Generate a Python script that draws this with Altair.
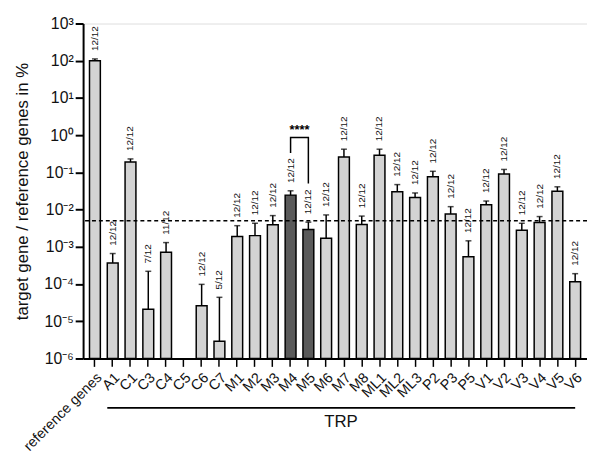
import altair as alt
import pandas as pd

categories = ["reference genes", "A1", "C1", "C3", "C4", "C5", "C6", "C7",
              "M1", "M2", "M3", "M4", "M5", "M6", "M7", "M8",
              "ML1", "ML2", "ML3", "P2", "P3", "P5",
              "V1", "V2", "V3", "V4", "V5", "V6"]
means = [100, 3.7e-4, 0.19, 2.1e-5, 7.1e-4, None, 2.6e-5, 2.9e-6,
         1.9e-3, 2.0e-3, 3.9e-3, 0.0245, 2.9e-3, 1.7e-3, 0.26, 4.0e-3,
         0.29, 0.03, 0.021, 0.076, 7.6e-3, 5.4e-4,
         0.0135, 0.09, 2.8e-3, 4.5e-3, 0.031, 1.15e-4]
upper = [112, 6.6e-4, 0.23, 2.2e-4, 1.3e-3, None, 9.8e-5, 4.4e-5,
         3.7e-3, 4.3e-3, 6.9e-3, 0.032, 4.6e-3, 7.2e-3, 0.42, 6.7e-3,
         0.42, 0.047, 0.028, 0.107, 0.012, 1.45e-3,
         0.017, 0.12, 4.3e-3, 6.5e-3, 0.041, 1.9e-4]
counts = ["12/12", "12/12", "12/12", "7/12", "11/12", "", "12/12", "5/12",
          "12/12", "12/12", "12/12", "12/12", "12/12", "12/12", "12/12", "12/12",
          "12/12", "12/12", "12/12", "12/12", "12/12", "12/12",
          "12/12", "12/12", "12/12", "12/12", "12/12", "12/12"]
highlight = ["M4", "M5"]
threshold = 0.005
ytick_values = [1e-6, 1e-5, 1e-4, 1e-3, 1e-2, 1e-1, 1, 10, 100, 1000]
bracket_cat = ["M4", "M4", "M5", "M5"]
bracket_val = [0.33, 0.87, 0.87, 0.05]
group_label = "TRP"
group_start, group_end = "A1", "V6"

df = pd.DataFrame({"cat": categories, "mean": means, "upper": upper, "n": counts})
df["dark"] = df["cat"].isin(highlight)
df = df.dropna(subset=["mean"])
df["base"] = 1e-6

FONT = "Liberation Sans"
xscale = alt.Scale(domain=categories, paddingInner=0.39, paddingOuter=0.36)
yscale = alt.Scale(type="log", domain=[1e-6, 1e3])

sup = {-6: "⁻⁶", -5: "⁻⁵", -4: "⁻⁴", -3: "⁻³", -2: "⁻²", -1: "⁻¹",
       0: "⁰", 1: "¹", 2: "²", 3: "³"}
expr = "''"
for k, v in sup.items():
    expr = f"round(log(datum.value)/LN10) == {k} ? '10{v}' : ({expr})"

x_enc = alt.X("cat:N", scale=xscale, sort=categories,
              axis=alt.Axis(title=None, labelAngle=-45, labelFontSize=14.5, labelFont=FONT,
                            labelColor="#111", tickSize=8, tickWidth=1.5, tickColor="black",
                            domainColor="black", domainWidth=2, labelPadding=4))
y_axis = alt.Axis(title="target gene / reference genes in %", titleFontSize=17,
                  titleFont=FONT, titleFontWeight="normal", titleColor="#111",
                  values=ytick_values, labelExpr=expr, labelFontSize=16, labelFont=FONT,
                  labelColor="#111", tickSize=8, tickWidth=2, tickColor="black",
                  domainColor="black", domainWidth=2, grid=False, titlePadding=13)

bars = alt.Chart(df).mark_bar(stroke="black", strokeWidth=1.5).encode(
    x=x_enc,
    y=alt.Y("mean:Q", scale=yscale, axis=y_axis),
    y2="base:Q",
    fill=alt.condition("datum.dark", alt.value("#5a5a5a"), alt.value("#d3d3d3")),
)
err = alt.Chart(df).mark_rule(color="black", strokeWidth=1.5).encode(
    x=alt.X("cat:N", scale=xscale, sort=categories), y=alt.Y("mean:Q", scale=yscale), y2="upper:Q")
caps = alt.Chart(df).mark_tick(color="black", thickness=1.5, size=6, orient="horizontal").encode(
    x=alt.X("cat:N", scale=xscale, sort=categories), y=alt.Y("upper:Q", scale=yscale))
labels = alt.Chart(df).mark_text(angle=270, align="left", baseline="middle", dx=8,
                                 fontSize=10, font=FONT, color="#111").encode(
    x=alt.X("cat:N", scale=xscale, sort=categories), y=alt.Y("upper:Q", scale=yscale), text="n:N")

thr = alt.Chart(pd.DataFrame({"t": [threshold]})).mark_rule(
    color="black", strokeWidth=1.5, strokeDash=[4, 3]).encode(y=alt.Y("t:Q", scale=yscale))

br = pd.DataFrame({"cat": bracket_cat, "v": bracket_val, "o": [0, 1, 2, 3]})
bracket = alt.Chart(br).mark_line(color="black", strokeWidth=1.5).encode(
    x=alt.X("cat:N", scale=xscale, sort=categories), y=alt.Y("v:Q", scale=yscale), order="o:Q")
stars = alt.Chart(pd.DataFrame({"cat": ["M4"], "v": [0.87], "s": ["****"]})).mark_text(
    dx=9, dy=-7, fontSize=13, font=FONT, fontWeight="bold", color="black").encode(
    x=alt.X("cat:N", scale=xscale, sort=categories), y=alt.Y("v:Q", scale=yscale), text="s:N")

grp = pd.DataFrame({"a": [group_start], "b": [group_end], "mid": ["M7"], "t": [group_label]})
gline = alt.Chart(grp).mark_rule(color="black", strokeWidth=2).encode(
    x=alt.X("a:N", scale=xscale, sort=categories, bandPosition=0),
    x2="b:N", y=alt.value(389))
gtext = alt.Chart(grp).mark_text(fontSize=17, font=FONT, color="#111", dx=-3).encode(
    x=alt.X("mid:N", scale=xscale, sort=categories), y=alt.value(403), text="t:N")

chart = alt.layer(bars, err, caps, labels, thr, bracket, stars, gline, gtext).properties(
    width=510, height=339,
    autosize=alt.AutoSizeParams(type="none"),
    padding={"left": 76, "top": 13, "right": 0, "bottom": 96},
).configure_view(stroke=None).configure(background="white")

chart.save("out.html", embed_options={"renderer": "svg", "actions": False})
